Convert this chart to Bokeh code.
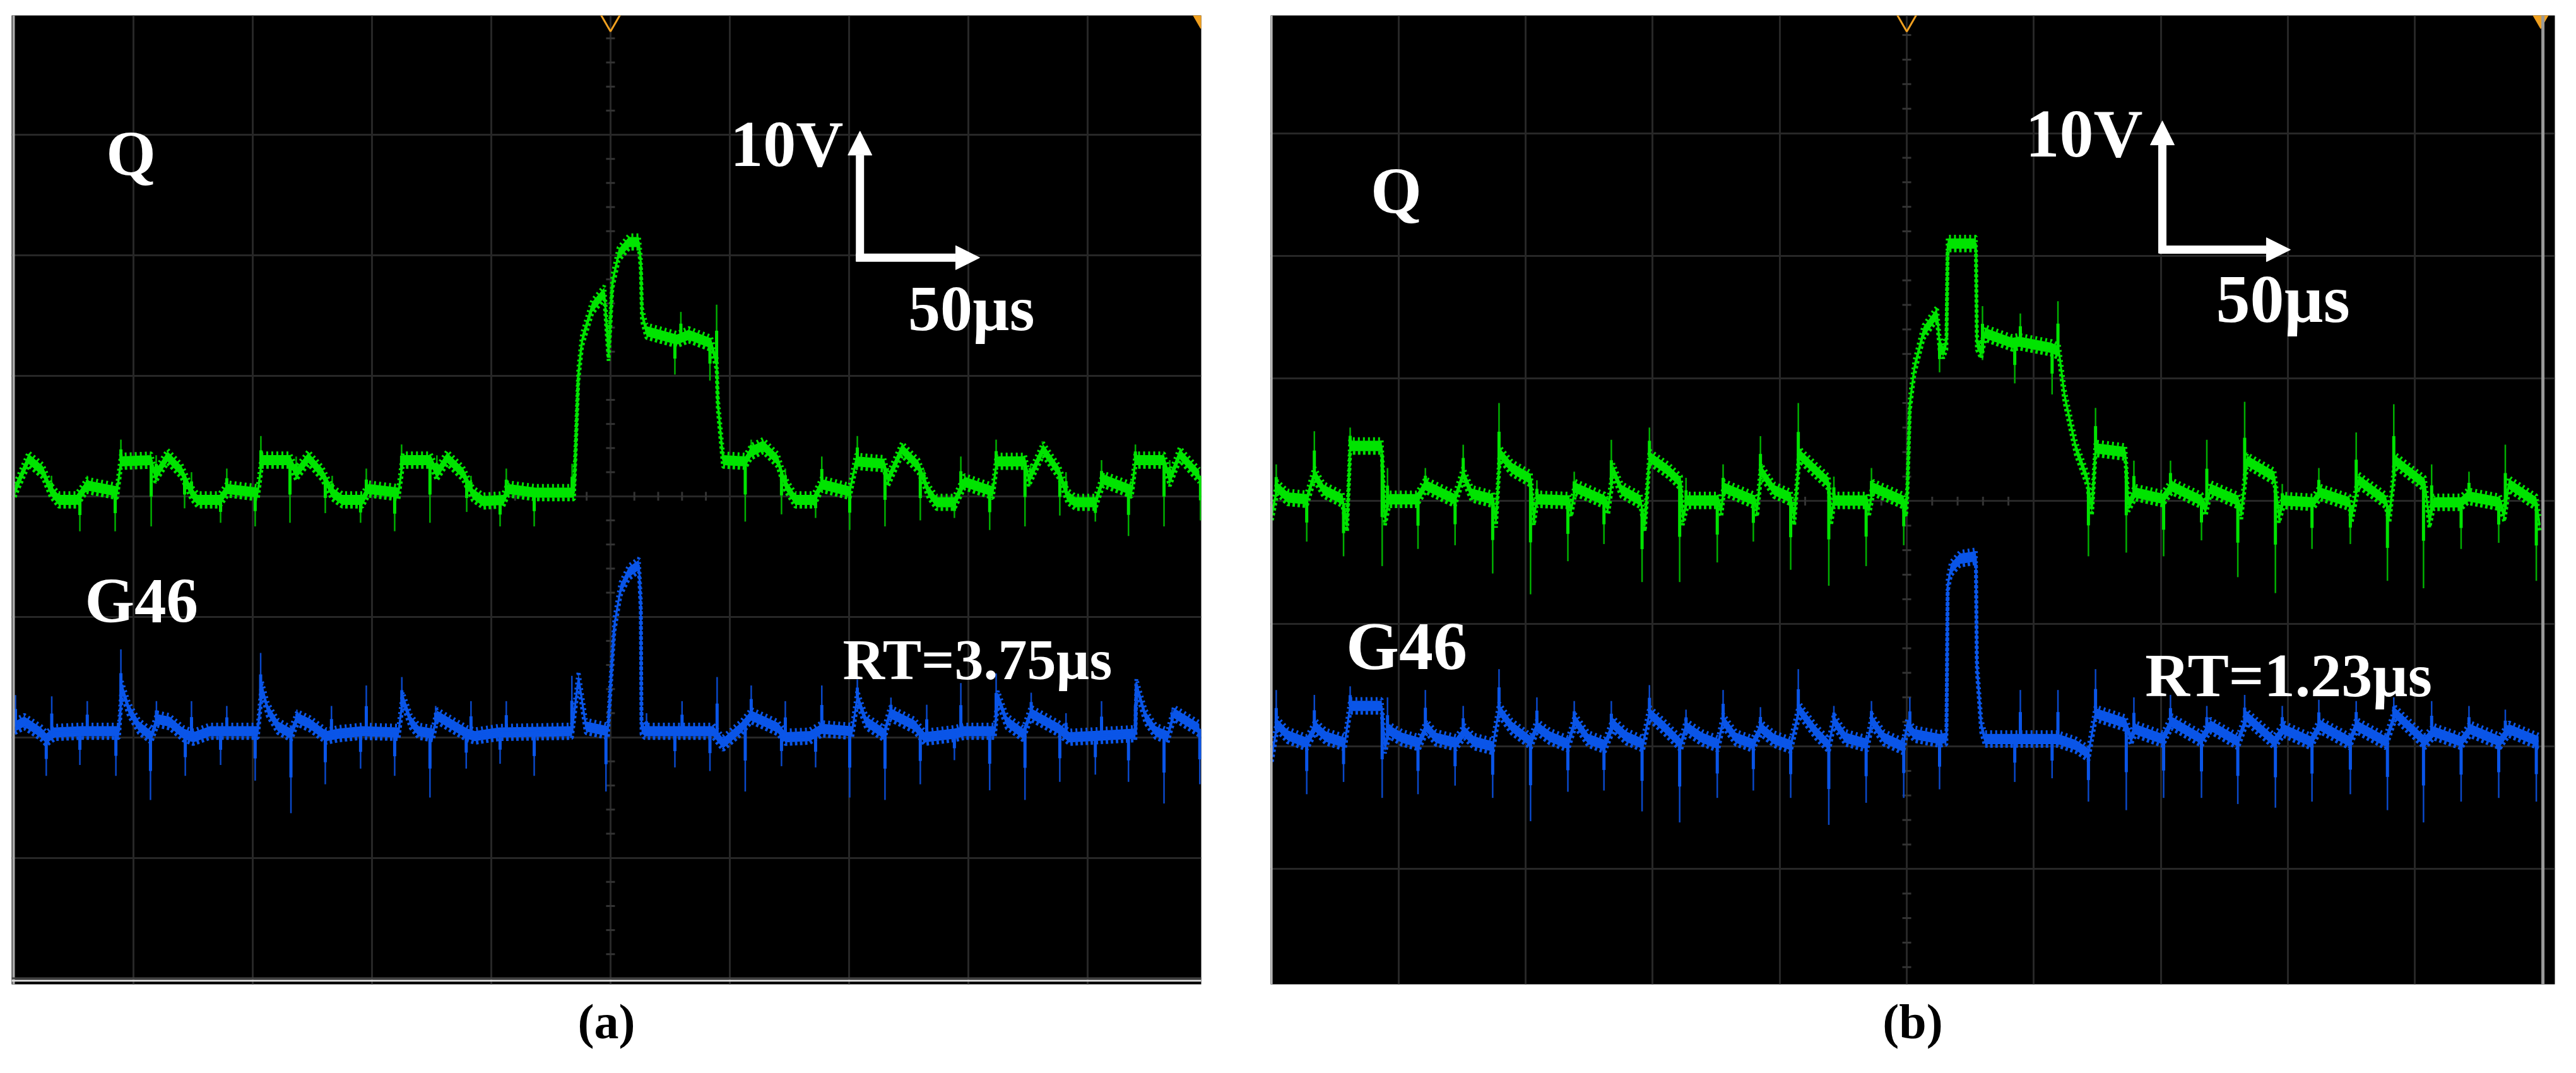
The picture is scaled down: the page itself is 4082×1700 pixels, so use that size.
import numpy as np
from bokeh.embed import file_html
from bokeh.layouts import row
from bokeh.models import Arrow, FixedTicker, Label, NormalHead, Span, Title
from bokeh.plotting import figure
from bokeh.resources import INLINE

GREEN = "#00e400"
GREEN_DARK = "#00b000"
BLUE = "#0a55e8"
BLUE_DARK = "#0a48c8"
GRID = "#272727"
ORANGE = "#f0a020"
SERIF = "Liberation Serif"

GRID_T = [-200, -150, -100, -50, 0, 50, 100, 150, 200]   # us
GRID_V = [-30, -20, -10, 0, 10, 20, 30]                  # V

# ---- (a) RT=3.75us ----
Q_A_T = [-249.8, -244, -238.1, -234.7, -231.4, -223.9, -219.6, -206.9, -205.3, -192.6, -190.9, -185.7, -179.9, -175.7,
         -173.2, -163.9, -160.6, -147.9, -146.2, -134.4, -131.8, -126.7, -120.9, -116.7, -112.5, -104, -101.5, -88.9,
         -87.1, -75.4, -72.8, -68.5, -61.8, -57.7, -53.4, -45, -42.9, -31.5, -15.3, -15.2, -13.5, -11.9, -7.7, -2.6,
         -0.8, 0.8, 3.4, 7.7, 11.9, 12.7, 13.2, 15.1, 27.8, 32.8, 42.1, 44.5, 45, 47.2, 56.5, 59, 64, 70.1, 73.3, 77.5,
         85.2, 88.6, 100.3, 102.9, 114.7, 116.4, 122.2, 129.1, 133.4, 136.7, 144.2, 148.4, 160.3, 161.9, 173.8, 175.4,
         181.4, 188.1, 191.6, 194.9, 203.3, 206.6, 218.6, 220.1, 232.1, 234.5, 238.7, 246.9]
Q_A_V = [0.5, 3.1, 2.1, 0.5, -0.3, -0.3, 0.9, 0.4, 2.9, 3.0, 1.7, 3.3, 2.1, 0.3,
         -0.3, -0.3, 0.6, 0.3, 3.0, 3.0, 1.9, 3.2, 1.9, 0.3, -0.3, -0.3, 0.6, 0.3,
         3.0, 3.0, 1.9, 3.2, 1.9, 0.2, -0.4, -0.3, 0.6, 0.3, 0.3, 1.0, 10.1, 13.0, 15.7, 16.9,
         11.8, 17.8, 20.1, 21.1, 21.1, 19.4, 15.1, 13.7, 13.0, 13.4, 12.7, 11.1, 7.7, 3.0, 2.9, 3.7, 4.2, 3.0, 1.0, -0.3,
         -0.3, 1.0, 0.4, 2.9, 2.7, 1.4, 3.9, 2.5, 0.4, -0.5, -0.5, 1.2, 0.4, 2.9, 2.9, 1.4,
         3.9, 2.0, 0.0, -0.5, -0.5, 1.4, 0.5, 3.0, 3.0, 1.4, 3.5, 1.7]
Q_A_SPIKE_T = [-222.5, -207.7, -192.6, -178.6, -163.5, -149, -134.4, -119.6, -104.8, -90.5, -75.7, -60.3, -46.3, -32,
               27, 41.7, 56.5, 71.7, 86, 100.3, 115.1, 129.9, 144.2, 159, 173.8, 188.4, 203.3, 217.2, 232.1, 247.4,
               -234.4, -219.4, -205.3, -190.5, -175.7, -160.9, -146.6, -131.8, -116.7, -102.4, -87.6, -72.8, -58.5,
               -43.7, -16.1, 29.5, 44.5, 59, 73.3, 88.6, 103.5, 131.5, 146.9, 161.7, 176.2, 191, 205.9, 220.1, 234.5]
Q_A_SPIKE_V = [-2.9, -2.9, -2.5, -1.0, -2.2, -2.5, -2.2, -1.4, -2.2, -2.9, -2.2, -1.3, -2.5, -2.5,
               10.1, 9.6, -2.1, -1.5, -1.8, -2.8, -2.5, -2.0, -1.8, -2.8, -2.5, -1.6, -2.1, -3.3, -2.5, -2.0,
               1.7, 1.7, 4.7, 3.4, 2.0, 2.3, 5.0, 3.3, 1.7, 2.3, 4.3, 3.4, 1.7,
               2.3, 2.7, 15.3, 15.9, 4.7, 2.3, 3.3, 5.0, 2.2, 3.3, 4.7, 2.7, 2.0, 3.0, 4.3, 3.0]

G_A_T = [-249.8, -245.8, -238.9, -236.6, -233.1, -222.1, -206.1, -204.9, -201.9, -197.7, -192.6, -190, -185, -179.1,
         -174.9, -168, -147.9, -146.2, -143.7, -139.4, -134, -131.3, -125.9, -119.2, -114, -104, -88.9, -87.1, -83.7,
         -80.4, -74.5, -72.8, -66.9, -60.1, -56.8, -46.6, -16.2, -13.4, -10.3, -1.1, 0, 1.6, 4.2, 7.7, 11.9, 12.7, 13,
         14.3, 43.1, 47.2, 54.8, 59, 70.1, 73.3, 83.6, 88.6, 101.3, 103.5, 107.2, 114.7, 117.2, 127.4, 131.6, 144.2,
         148.4, 161.1, 162.5, 166.2, 173, 176.2, 188.1, 192.4, 220.1, 220.5, 224.4, 228.6, 233.6, 236.3, 246.9]
G_A_V = [-19.1, -18.7, -19.6, -20.1, -19.6, -19.5, -19.5, -15.9, -17.7, -19.1, -19.9, -18.5, -18.7, -19.7,
         -20.0, -19.5, -19.5, -15.9, -17.7, -19.1, -19.7, -18.4, -18.9, -19.9, -19.7, -19.5, -19.6, -16.8, -18.7,
         -19.5, -19.7, -18.2, -18.9, -19.7, -19.9, -19.6, -19.5, -15.1, -19.1, -19.5, -15.7, -10.7, -7.7, -6.3, -5.7,
         -9.0, -19.2, -19.5, -19.5, -20.5, -19.2, -18.2, -19.2, -20.0, -19.9, -19.3, -19.5, -16.7, -18.7, -19.7, -18.0,
         -19.0, -20.0, -19.7, -19.5, -19.5, -16.7, -18.7, -19.7, -18.0, -19.3, -20.0, -19.7, -15.7, -18.3, -19.5,
         -19.9, -18.0, -19.3]
G_A_SPIKE_T = [-236.6, -222.5, -207.4, -192.9, -178.3, -163.5, -149, -134, -119.6, -104.8, -90.5, -75.7, -60.5, -46.3,
               -32, -1.9, 27, 41.7, 56.5, 71.7, 86, 100.3, 115.1, 129.9, 144.2, 159, 173.8, 188.4, 203.3, 217.2, 232.1,
               247.1, -249.5, -234.3, -219.4, -205.3, -190.4, -175.7, -160.9, -146.7, -131.5, -117, -102.4, -87.5,
               -73.3, -58.5, -43.7, -16.2, 15.1, 30, 44.7, 59, 73.3, 88.6, 103.5, 117.6, 132.6, 146.9, 161.7, 176.4,
               191, 205.9, 220.1, 235.5]
G_A_SPIKE_V = [-23.2, -22.3, -23.2, -25.2, -23.2, -22.3, -23.6, -26.3, -23.9, -22.6, -23.2, -25, -22.6, -22.2,
               -23.2, -24.5, -22.5, -22.8, -24.5, -22.4, -22.5, -25, -25.2, -23.9, -21.9, -24.4, -25.2, -23.7, -23.1,
               -23.7, -25.5, -23.9, -16.5, -16.6, -17, -12.7, -17, -17, -17.4, -13, -17.7, -17.4, -15.7, -15,
               -17.4, -17, -17, -14.9, -18, -17, -15, -15.7, -17, -15.7, -15.2, -16.7, -17.3, -15.5, -14.7, -16.3,
               -18, -17, -15.5, -17.7]

# ---- (b) RT=1.23us ----
Q_B_T = [-249.9, -247.8, -243.7, -236.2, -233.2, -229.5, -222.1, -220.3, -219.1, -206.7, -205.4, -203.7, -192.9, -189.5,
         -177.9, -174.6, -171.3, -162.9, -161.7, -160.2, -155.5, -148, -146.8, -145.6, -133, -132.1, -130.5, -118.9,
         -117.5, -115.5, -112.3, -104.8, -103.1, -101.3, -93.9, -88.9, -88.2, -86.4, -74.3, -73, -72, -59.9, -58.9,
         -57.4, -52.3, -45.7, -44.3, -42.3, -35.8, -30.7, -29.8, -28.7, -15.6, -14.9, -13.2, -1.5, -0.3, 0.2, 1.2, 3,
         6.6, 11.9, 12.9, 14.3, 15.6, 16.1, 27.2, 27.6, 29.3, 30.8, 41.5, 44.2, 56.9, 59.9, 62.1, 66.6, 71.2, 71.7,
         72.9, 74.3, 86, 87.2, 89.9, 100.7, 104.3, 116, 117.7, 119.5, 130.3, 131.7, 133.9, 144.7, 146.5, 148.3, 160,
         162.7, 174.3, 175.1, 177.9, 188.5, 190, 192.3, 203.9, 205.7, 207.4, 218.2, 220.8, 233.5, 235.2, 237, 247.8,
         249.1]
Q_B_V = [-1.0, 1.1, 0.3, 0.15, 2.2, 0.9, 0.15, -1.9, 4.5, 4.5, -1.4, 0.15, 0.15, 1.3,
         0.15, 2.2, 0.6, 0.15, -1.6, 3.9, 2.7, 1.8, -1.4, 0.15, 0.05, -0.7, 1.1, 0.05,
         -0.5, 2.5, 0.9, 0.05, -1.9, 3.6, 2.5, 1.5, -1.4, 0.05, 0.05, -0.7, 1.1, 0.05, -0.7,
         2.5, 0.9, 0.3, -1.4, 3.8, 2.5, 1.5, -1.4, 0.05, 0.05, -0.7, 1.1, 0.05, -0.7, 0.7, 7.9, 10.9,
         13.8, 15.3, 12.9, 12.2, 12.9, 21, 21, 12.9, 12.2, 13.7, 12.9, 13, 12.5, 12.2, 8.6, 4.3, 1.7, 0.7,
         -0.6, 4.3, 4, -0.3, 0.7, 0.2, 1.2, 0.05, -0.6, 1, 0.05, -0.9, 3.3, 2, -1.2, 0.05, -0.1,
         0.7, -0.1, -1.2, 1.7, 0.05, -1.2, 3.3, 1.4, -1.6, -0.1, -0.1, 0.4, -0.1, -1.1, 1.4, -0.1,
         -1.9]
Q_B_SPIKE_T = [-236.2, -221.7, -206.5, -192.4, -177.8, -163, -148.1, -133.4, -119.2, -104.2, -89.4, -74.6, -60.4, -45.7,
               -30.7, -16, -1.2, 12.9, 29.8, 42.5, 57.2, 71.5, 86.4, 101.1, 116, 130.3, 145.1, 159.5, 174.6, 189.2,
               203.4, 218.2, 233, 247.8, -248.2, -233.2, -219.1, -204.4, -189.5, -174.6, -160.5, -145.6, -130.9,
               -116.3, -101.3, -86.9, -72.3, -57.6, -42.7, -28.7, -13.9, 29.8, 44.7, 59.5, 74.3, 89.4, 103.8, 118.1,
               133, 147.8, 162.2, 176.9, 191.7, 206.6, 221.3, 235.6]
Q_B_SPIKE_V = [-3.3, -4.5, -5.3, -3.9, -3.6, -5.9, -7.6, -4.9, -3.5, -6.6, -6.6, -5, -3.3, -5.6,
               -6.9, -5.3, -3.6, 10.5, 11.5, 9.6, 8.7, -4.5, -4.2, -4.5, -3.2, -6.2, -7.5, -3.9, -3.5, -6.5,
               -7.1, -3.9, -3.4, -6.5, 3, 5.7, 6, 2.7, 2.7, 4.6, 8, 1.7, 2.4,
               5, 6, 1.9, 3, 5.3, 8, 2, 2.7, 15.9, 15.3, 16.3, 7.6, 3.3, 3.3, 5,
               8.1, 1.4, 2.7, 5.6, 7.9, 3, 2.4, 4.6]

G_B_T = [-249.9, -247.8, -243.7, -236.2, -232.7, -228.7, -221.2, -219.1, -206.7, -205.4, -203.7, -198.7, -192, -189,
         -185.4, -177.4, -174.1, -170.4, -163, -160.5, -155.5, -148, -145.6, -140.5, -133.4, -130.5, -125.4, -118.9,
         -115.5, -110.5, -103.8, -101.3, -95.6, -88.9, -86.9, -80.6, -74.3, -72.3, -67.3, -60.6, -57.4, -52.3, -45.7,
         -42.3, -35.8, -30.7, -28.7, -24.1, -15.6, -13.7, -9, -1.5, 0.2, 3, 12.8, 15.6, 16.1, 17.4, 20.9, 27.2, 27.6,
         29.3, 30.8, 42.5, 59.5, 66.6, 71.5, 74.3, 86, 88.2, 89.9, 100.7, 104.3, 116, 119.5, 130.3, 133.9, 144.7,
         148.3, 159, 162.7, 174.3, 176.9, 188.5, 192.3, 203.9, 207.4, 218.2, 221.8, 233.5, 237, 248.7]
G_B_V = [-20.7, -18.2, -19.1, -19.7, -18.4, -19.2, -19.7, -16.7, -16.7, -20, -18.7, -19.3, -19.7, -18.4,
         -19.3, -19.7, -18.8, -19.6, -20, -17, -18.4, -19.6, -18.4, -19.2, -19.8, -17.9, -19.4, -19.9,
         -18.2, -19.2, -19.8, -17.3, -18.4, -19.8, -18.4, -19.3, -19.8, -17.9, -19.3, -19.8, -18.5, -19.4, -19.9,
         -17, -18.8, -19.9, -17.9, -19.3, -19.8, -17.9, -19.3, -20, -18.3, -19, -19.4, -19.3, -6.8, -5.5, -4.7, -4.5, -13.4,
         -18.3, -19.4, -19.4, -19.4, -19.9, -20.6, -17.3, -18.1, -19.3, -18.6, -19.4, -18, -19.4, -18.3, -19.6, -17.6, -19.6,
         -18.6, -19.6, -18.3, -19.6, -18.3, -19.6, -17.3, -19.6, -18.8, -19.6, -18.6, -19.6, -18.6, -19.6]
G_B_SPIKE_T = [-236.2, -221.7, -206.5, -192.4, -177.8, -163, -148.1, -133.4, -119.2, -104.2, -89.4, -74.6, -60.4, -45.7,
               -30.7, -16, -1.2, 12.9, 42.5, 57.2, 71.5, 86.4, 101.1, 116, 130.3, 145.1, 159.5, 174.6, 189.2, 203.4,
               218.2, 233, 247.8, -248.2, -233.2, -219.1, -204.4, -189.5, -174.6, -160.5, -145.6, -130.9, -116.3,
               -101.3, -86.9, -72.3, -57.6, -42.7, -28.7, -13.9, 1.2, 44.7, 59.5, 74.3, 89.4, 103.8, 118.1, 133, 147.8,
               162.2, 176.9, 191.7, 206.6, 221.3, 235.6]
G_B_SPIKE_V = [-23.9, -22.9, -24.2, -23.9, -23.2, -24.2, -26.1, -23.7, -23.6, -25.3, -26.2, -24.2, -23.6, -24.2,
               -26.4, -24.6, -24.2, -23.5, -22.9, -22.6, -24.5, -25.2, -24.2, -24.2, -24.7, -25, -24.5, -23.9, -25.2, -26.2,
               -24.5, -24.2, -24.5, -15.4, -15.8, -15.1, -16, -15.4, -16.7, -13.7, -16, -16.3, -16.3,
               -15, -17, -15.4, -16.8, -13.7, -16.7, -16.3, -16, -15.4, -15.4, -13.7, -16, -15.8, -16.7, -15.8, -16.7,
               -16.2, -16.3, -16, -16.3, -16.7, -17]


def draw_trace(p, t, v, spike_t, spike_v, color, dark, half=0.42):
    t = np.array(t)
    v = np.array(v)
    spike_t = np.array(spike_t)
    spike_v = np.array(spike_v)
    foot = np.interp(spike_t, t, v)
    # spikes are thin at the tip and thicker near the trace
    p.segment(spike_t, foot, spike_t, spike_v, line_color=dark, line_width=2.5)
    p.segment(spike_t, foot, spike_t, foot + (spike_v - foot) * 0.55, line_color=color, line_width=5)
    p.varea(t, v - half, v + half, fill_color=color)
    p.line(t, v, line_color=color, line_width=3)
    # scope noise on both edges of the band
    p.line(t, v + half + 0.14, line_color=color, line_width=6, line_dash="3 5")
    p.line(t, v - half - 0.14, line_color=color, line_width=6, line_dash="4 4")


def make_panel(width, borders, x_range, y_range):
    p = figure(width=width, height=1692, x_range=x_range, y_range=y_range, output_backend="svg",
               toolbar_location=None, background_fill_color="black", border_fill_color="white",
               min_border_top=borders[0], min_border_right=borders[1],
               min_border_bottom=borders[2], min_border_left=borders[3])
    p.outline_line_color = None
    p.axis.visible = False
    p.xgrid.ticker = FixedTicker(ticks=GRID_T)
    p.ygrid.ticker = FixedTicker(ticks=GRID_V)
    p.grid.grid_line_color = GRID
    p.grid.grid_line_width = 3

    # division marks on the centre cross
    v_marks = [m for m in range(-38, 39, 2) if m % 10 != 0]
    t_marks = [m for m in range(-40, 41, 10) if m % 50 != 0]
    p.scatter([0] * len(v_marks), v_marks, marker="dash", size=14, line_color="#333333", line_width=3)
    p.scatter(t_marks, [0] * len(t_marks), marker="dash", angle=np.pi / 2, size=14, line_color="#333333", line_width=3)
    return p


def add_text(p, t, v, text, size):
    # y_offset: Label sits about a third of an em under the asked baseline in the svg backend
    p.add_layout(Label(x=t, y=v, y_offset=0.34 * size, text=text, text_font=SERIF, text_font_size=f"{size}px",
                       text_font_style="bold", text_color="white", text_baseline="alphabetic"))


def add_caption(p, text):
    p.add_layout(Title(text=text, align="center", standoff=26, text_font=SERIF, text_font_size="78px",
                       text_font_style="bold", text_color="black"), "below")


def add_scale(p, x0, y_tip, y_end, y_h, x_start, x_tip):
    for xs, ys, xe, ye in [(x0, y_end, x0, y_tip), (x_start, y_h, x_tip, y_h)]:
        p.add_layout(Arrow(end=NormalHead(size=38, fill_color="white", line_color="white"),
                           x_start=xs, y_start=ys, x_end=xe, y_end=ye, line_color="white", line_width=13))


# panel (a)
pa = make_panel(2008, (24, 105, 133, 18), (-251.1, 247.7), (-40.5, 39.9))
draw_trace(pa, Q_A_T, Q_A_V, Q_A_SPIKE_T, Q_A_SPIKE_V, GREEN, GREEN_DARK)
draw_trace(pa, G_A_T, G_A_V, G_A_SPIKE_T, G_A_SPIKE_V, BLUE, BLUE_DARK)
pa.add_layout(Span(location=-250.3, dimension="height", line_color="#aaaaaa", line_width=4))
pa.add_layout(Span(location=-40.0, dimension="width", line_color="#444444", line_width=3))
pa.add_layout(Span(location=-40.2, dimension="width", line_color="#dddddd", line_width=3))
pa.scatter([0], [39.6], marker="inverted_triangle", size=34, fill_color=None, line_color=ORANGE, line_width=3)
pa.scatter([247.5], [39.6], marker="inverted_triangle", size=26, fill_color=ORANGE, line_color=ORANGE)
add_scale(pa, 104.6, 30.3, 19.5, 19.8, 102.9, 154.8)
add_text(pa, -211.5, 26.6, "Q", 101)
add_text(pa, 50.2, 27.4, "10V", 104)
add_text(pa, 124.8, 13.8, "50µs", 102)
add_text(pa, -220.4, -10.5, "G46", 101)
add_text(pa, 97.4, -15.2, "RT=3.75µs", 92)
add_caption(pa, "(a)")

# panel (b)
pb = make_panel(2066, (22, 26, 133, 5), (-250.4, 255.1), (-39.4, 39.6))
draw_trace(pb, Q_B_T, Q_B_V, Q_B_SPIKE_T, Q_B_SPIKE_V, GREEN, GREEN_DARK)
draw_trace(pb, G_B_T, G_B_V, G_B_SPIKE_T, G_B_SPIKE_V, BLUE, BLUE_DARK)
pb.add_layout(Span(location=-250, dimension="height", line_color="#bbbbbb", line_width=3))
pb.add_layout(Span(location=250.4, dimension="height", line_color="#999999", line_width=5))
pb.scatter([0], [39.3], marker="inverted_triangle", size=34, fill_color=None, line_color=ORANGE, line_width=3)
pb.scatter([249.5], [39.3], marker="inverted_triangle", size=26, fill_color=ORANGE, line_color=ORANGE)
add_scale(pb, 100.6, 31, 20.2, 20.5, 99.4, 151)
add_text(pb, -211, 23.5, "Q", 104)
add_text(pb, 46.7, 28.1, "10V", 108)
add_text(pb, 121.7, 14.6, "50µs", 108)
add_text(pb, -220.7, -13.7, "G46", 108)
add_text(pb, 93.8, -15.9, "RT=1.23µs", 98)
add_caption(pb, "(b)")

page = row(pa, pb)
open("out.html", "w", encoding="utf-8").write(file_html(page, INLINE))
